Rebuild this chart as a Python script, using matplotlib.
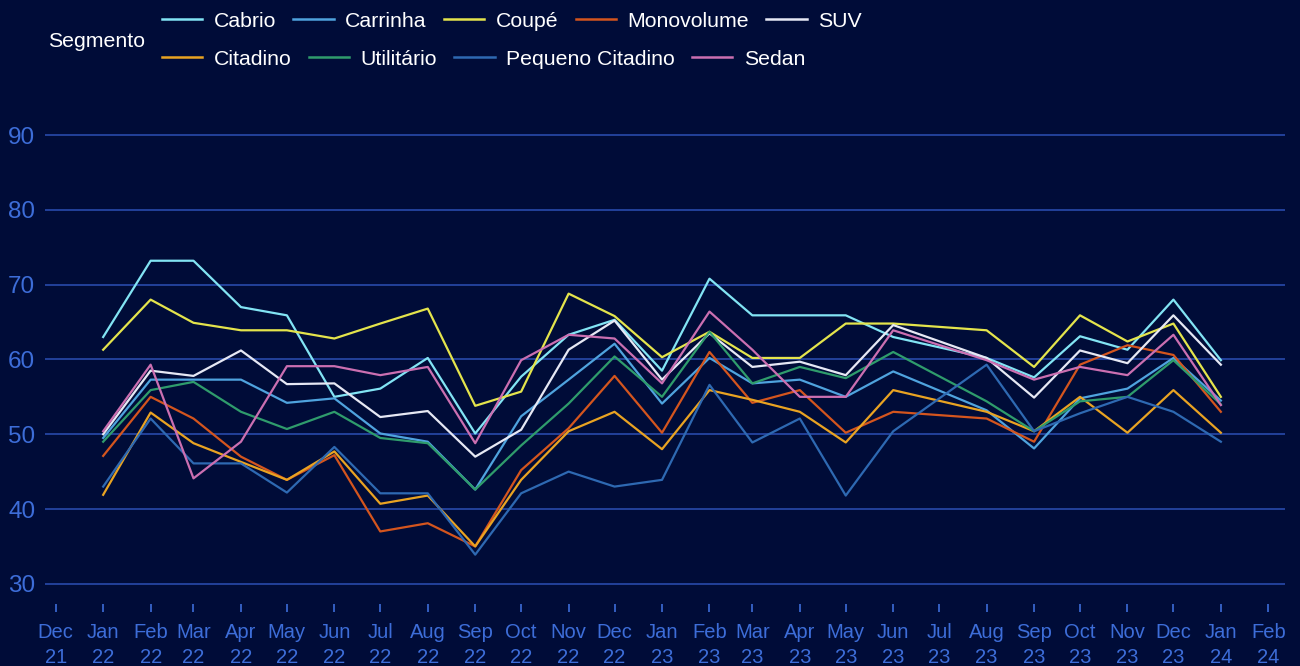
import numpy as np
import pandas as pd
import matplotlib
matplotlib.use("Agg")
import matplotlib.pyplot as plt
import matplotlib.dates as mdates

# monthly observations (no data for Jul 23)
months = ["2022-01", "2022-02", "2022-03", "2022-04", "2022-05", "2022-06",
          "2022-07", "2022-08", "2022-09", "2022-10", "2022-11", "2022-12",
          "2023-01", "2023-02", "2023-03", "2023-04", "2023-05", "2023-06",
          "2023-08", "2023-09", "2023-10", "2023-11", "2023-12", "2024-01"]

cabrio = [63.0, 73.2, 73.2, 67.0, 65.9, 55.0, 56.1, 60.2, 50.1, 57.7, 63.3, 65.3,
          58.5, 70.8, 65.9, 65.9, 65.9, 63.0, 60.2, 57.6, 63.1, 61.3, 68.0, 59.9]
carrinha = [49.5, 57.3, 57.3, 57.3, 54.2, 54.8, 50.1, 49.0, 42.6, 52.4, 57.3, 62.1,
            54.1, 60.2, 56.8, 57.3, 55.0, 58.4, 53.2, 48.1, 54.8, 56.1, 60.2, 54.5]
coupe = [61.3, 68.0, 64.9, 63.9, 63.9, 62.8, 64.8, 66.8, 53.8, 55.7, 68.8, 65.8,
         60.3, 63.7, 60.2, 60.2, 64.8, 64.8, 63.9, 59.0, 65.9, 62.4, 64.8, 55.0]
monovolume = [47.1, 55.0, 52.1, 47.0, 43.9, 47.2, 37.0, 38.1, 35.0, 45.2, 50.8, 57.8,
              50.2, 61.0, 54.2, 55.9, 50.2, 53.0, 52.1, 49.0, 59.3, 61.9, 60.6, 53.0]
suv = [50.0, 58.5, 57.8, 61.2, 56.7, 56.8, 52.3, 53.1, 47.0, 50.6, 61.3, 65.2,
       57.3, 63.5, 59.0, 59.7, 57.9, 64.6, 60.2, 54.9, 61.2, 59.5, 65.9, 59.3]
citadino = [41.9, 52.9, 48.8, 46.3, 43.9, 47.7, 40.7, 41.8, 35.0, 43.9, 50.4, 53.0,
            48.0, 55.9, 54.6, 53.0, 48.9, 55.9, 53.0, 50.4, 55.0, 50.2, 55.9, 50.2]
utilitario = [49.0, 55.9, 57.0, 53.0, 50.7, 53.0, 49.5, 48.8, 42.6, 48.5, 54.1, 60.4,
              55.0, 63.7, 56.8, 59.0, 57.5, 61.0, 54.4, 50.4, 54.4, 55.0, 59.9, 54.0]
pequeno_citadino = [43.0, 52.1, 46.1, 46.1, 42.2, 48.3, 42.1, 42.1, 33.9, 42.1, 45.0, 43.0,
                    43.9, 56.6, 48.9, 52.1, 41.8, 50.4, 59.3, 50.4, 52.8, 55.0, 53.0, 49.0]
sedan = [50.4, 59.3, 44.1, 49.0, 59.1, 59.1, 57.9, 59.0, 48.8, 59.9, 63.3, 62.8,
         56.8, 66.4, 61.3, 55.0, 55.0, 63.9, 59.9, 57.3, 59.0, 57.9, 63.3, 53.9]

segments = ["Cabrio", "Carrinha", "Coupé", "Monovolume", "SUV",
            "Citadino", "Utilitário", "Pequeno Citadino", "Sedan"]
values = [cabrio, carrinha, coupe, monovolume, suv,
          citadino, utilitario, pequeno_citadino, sedan]
colors = ["#82E4F4", "#4FA3DE", "#E4E44C", "#D4551E", "#E6E8F4",
          "#E9A322", "#2F9C6C", "#2E69B2", "#CB6FB1"]

BG = "#000C38"
GRID = "#2C4FB4"
TICK = "#3D6DD8"

plt.rcParams["font.family"] = ["Liberation Sans", "DejaVu Sans"]

dates = pd.to_datetime(months)

fig = plt.figure(figsize=(13, 6.66), dpi=100, facecolor=BG)
ax = fig.add_axes([0.0346, 0.0931, 0.954, 0.7602])
ax.set_facecolor(BG)

handles = []
for name, vals, col in zip(segments, values, colors):
    ln, = ax.plot(dates, vals, color=col, lw=1.6, label=name, zorder=3)
    handles.append(ln)

ax.set_ylim(27.3, 95)
ax.set_yticks([30, 40, 50, 60, 70, 80, 90])
ax.set_xlim(pd.Timestamp("2021-11-24"), pd.Timestamp("2024-02-12"))
ax.xaxis.set_major_locator(mdates.MonthLocator())
ax.xaxis.set_major_formatter(mdates.DateFormatter("%b\n%y"))

ax.grid(axis="y", color=GRID, lw=1.1, zorder=1)
ax.grid(axis="x", visible=False)
for s in ax.spines.values():
    s.set_visible(False)
ax.tick_params(axis="y", length=0, labelsize=17.5, labelcolor=TICK, pad=7)
ax.tick_params(axis="x", length=5.5, width=1.2, color=TICK, labelsize=14.5,
               labelcolor=TICK, pad=8)
for lab in ax.get_xticklabels():
    lab.set_linespacing(1.4)

# legend: title on the left, two rows laid out as a flow
fig.text(0.037, 0.938, "Segmento", color="white", fontsize=15.3, va="center", ha="left")
leg_kw = dict(frameon=False, fontsize=15.3, labelcolor="white", handlelength=1.9,
              handletextpad=0.55, columnspacing=0.8, borderaxespad=0, borderpad=0,
              loc="center left")
leg1 = fig.legend(handles[:5], segments[:5], ncol=5,
                  bbox_to_anchor=(0.1245, 0.968), **leg_kw)
leg2 = fig.legend(handles[5:], segments[5:], ncol=4,
                  bbox_to_anchor=(0.1245, 0.911), **leg_kw)
for leg in (leg1, leg2):
    for h in leg.legend_handles:
        h.set_linewidth(1.8)

fig.savefig("out.png", dpi=100, facecolor=BG)
